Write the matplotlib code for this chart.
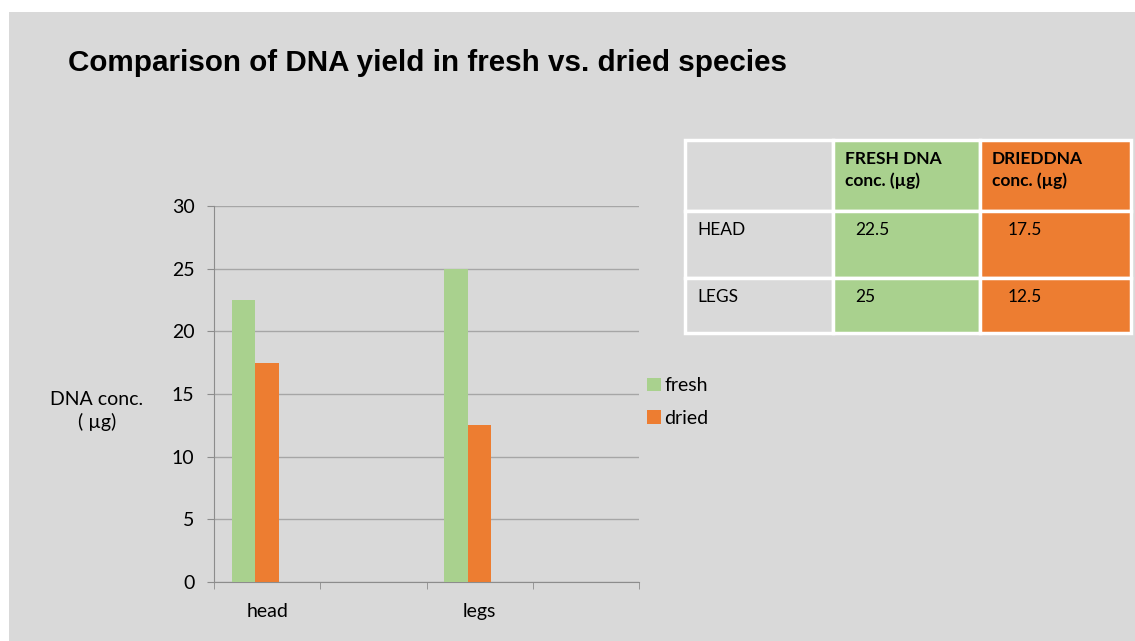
import numpy as np
import matplotlib
matplotlib.use("Agg")
import matplotlib.pyplot as plt
from matplotlib.patches import Rectangle

# ---- data ----
categories = ["head", "", "legs", ""]
fresh = [22.5, np.nan, 25, np.nan]
dried = [17.5, np.nan, 12.5, np.nan]
series_names = ["fresh", "dried"]
yticks = [0, 5, 10, 15, 20, 25, 30]

table_rows = ["HEAD", "LEGS"]
table_fresh = [22.5, 25]
table_dried = [17.5, 12.5]
table_headers = ["FRESH DNA\nconc. (µg)", "DRIEDDNA\nconc. (µg)"]

title = "Comparison of DNA yield in fresh vs. dried species"
ylabel = "DNA conc.\n( µg)"

GREEN = "#a9d18e"
ORANGE = "#ed7d31"
BG = "#d9d9d9"
GRID = "#a6a6a6"
FS = 14

W, H = 1135, 641
fig = plt.figure(figsize=(W / 100, H / 100), dpi=100, facecolor="white")

# slide background (white margin at top-left)
fig.patches.append(Rectangle((9 / W, 0), 1, 1 - 12 / H, transform=fig.transFigure,
                             facecolor=BG, edgecolor="none", zorder=-10))

fig.text(68 / W, 1 - 63 / H, title, fontsize=21.3, fontweight="bold",
         family="Liberation Sans", va="center", ha="left")

# ---- chart ----
ax = fig.add_axes([214 / W, 1 - 582 / H, (639 - 214) / W, (582 - 206) / H])
ax.set_facecolor(BG)
x = np.arange(len(categories))
w = 0.222
ax.bar(x - w, fresh, width=w, color=GREEN, label=series_names[0], zorder=3)
ax.bar(x, dried, width=w, color=ORANGE, label=series_names[1], zorder=3)

ax.set_xlim(-0.5, len(categories) - 0.5)
ax.set_ylim(0, 30)
ax.set_yticks(yticks)
ax.yaxis.grid(True, color=GRID, linewidth=1)
ax.set_axisbelow(True)

for s in ["top", "right"]:
    ax.spines[s].set_visible(False)
ax.spines["left"].set_color("#8c8c8c")
ax.spines["bottom"].set_color("#8c8c8c")

ax.set_xticks(x)
ax.set_xticklabels(categories, family="Lato", fontsize=FS)
ax.set_xticks(np.arange(len(categories) + 1) - 0.5, minor=True)
ax.tick_params(axis="x", which="major", length=0, pad=15)
ax.tick_params(axis="x", which="minor", length=5, color="#8c8c8c", direction="out")
ax.tick_params(axis="y", length=5, color="#8c8c8c", pad=9)
for lab in ax.get_yticklabels():
    lab.set_family("Lato")
    lab.set_fontsize(FS)

fig.text(97 / W, 1 - 411 / H, ylabel, family="Lato", fontsize=FS,
         ha="center", va="center", linespacing=1.35)

fig.legend(loc="center left", bbox_to_anchor=(647 / W, 1 - 402 / H),
           frameon=False, prop={"family": "Lato", "size": FS},
           handlelength=0.7, handleheight=0.7, handletextpad=0.2,
           labelspacing=0.78, borderpad=0, borderaxespad=0)

# ---- table ----
col_x = [685, 833, 980, 1131]
row_y = [140, 211, 278, 333]
cell_colors = [BG, GREEN, ORANGE]
for r in range(3):
    for c in range(3):
        x0, x1 = col_x[c], col_x[c + 1]
        y0, y1 = row_y[r], row_y[r + 1]
        fig.patches.append(Rectangle((x0 / W, 1 - y1 / H), (x1 - x0) / W, (y1 - y0) / H,
                                     transform=fig.transFigure, facecolor=cell_colors[c],
                                     edgecolor="white", linewidth=2.5, zorder=5))

TFS = 12.5
for c, hdr in enumerate(table_headers):
    fig.text((col_x[c + 1] + 12) / W, 1 - 151 / H, hdr, family="Lato", fontsize=TFS,
             fontweight="bold", ha="left", va="top", linespacing=1.4, zorder=6)

for r, name in enumerate(table_rows):
    ytop = row_y[r + 1] + 11
    fig.text(697 / W, 1 - ytop / H, name, family="Lato", fontsize=TFS,
             ha="left", va="top", zorder=6)
    fig.text((col_x[1] + 22) / W, 1 - ytop / H, f"{table_fresh[r]:g}", family="Lato",
             fontsize=TFS, ha="left", va="top", zorder=6)
    fig.text((col_x[2] + 28) / W, 1 - ytop / H, f"{table_dried[r]:g}", family="Lato",
             fontsize=TFS, ha="left", va="top", zorder=6)

fig.savefig("out.png", dpi=100, facecolor="white")
